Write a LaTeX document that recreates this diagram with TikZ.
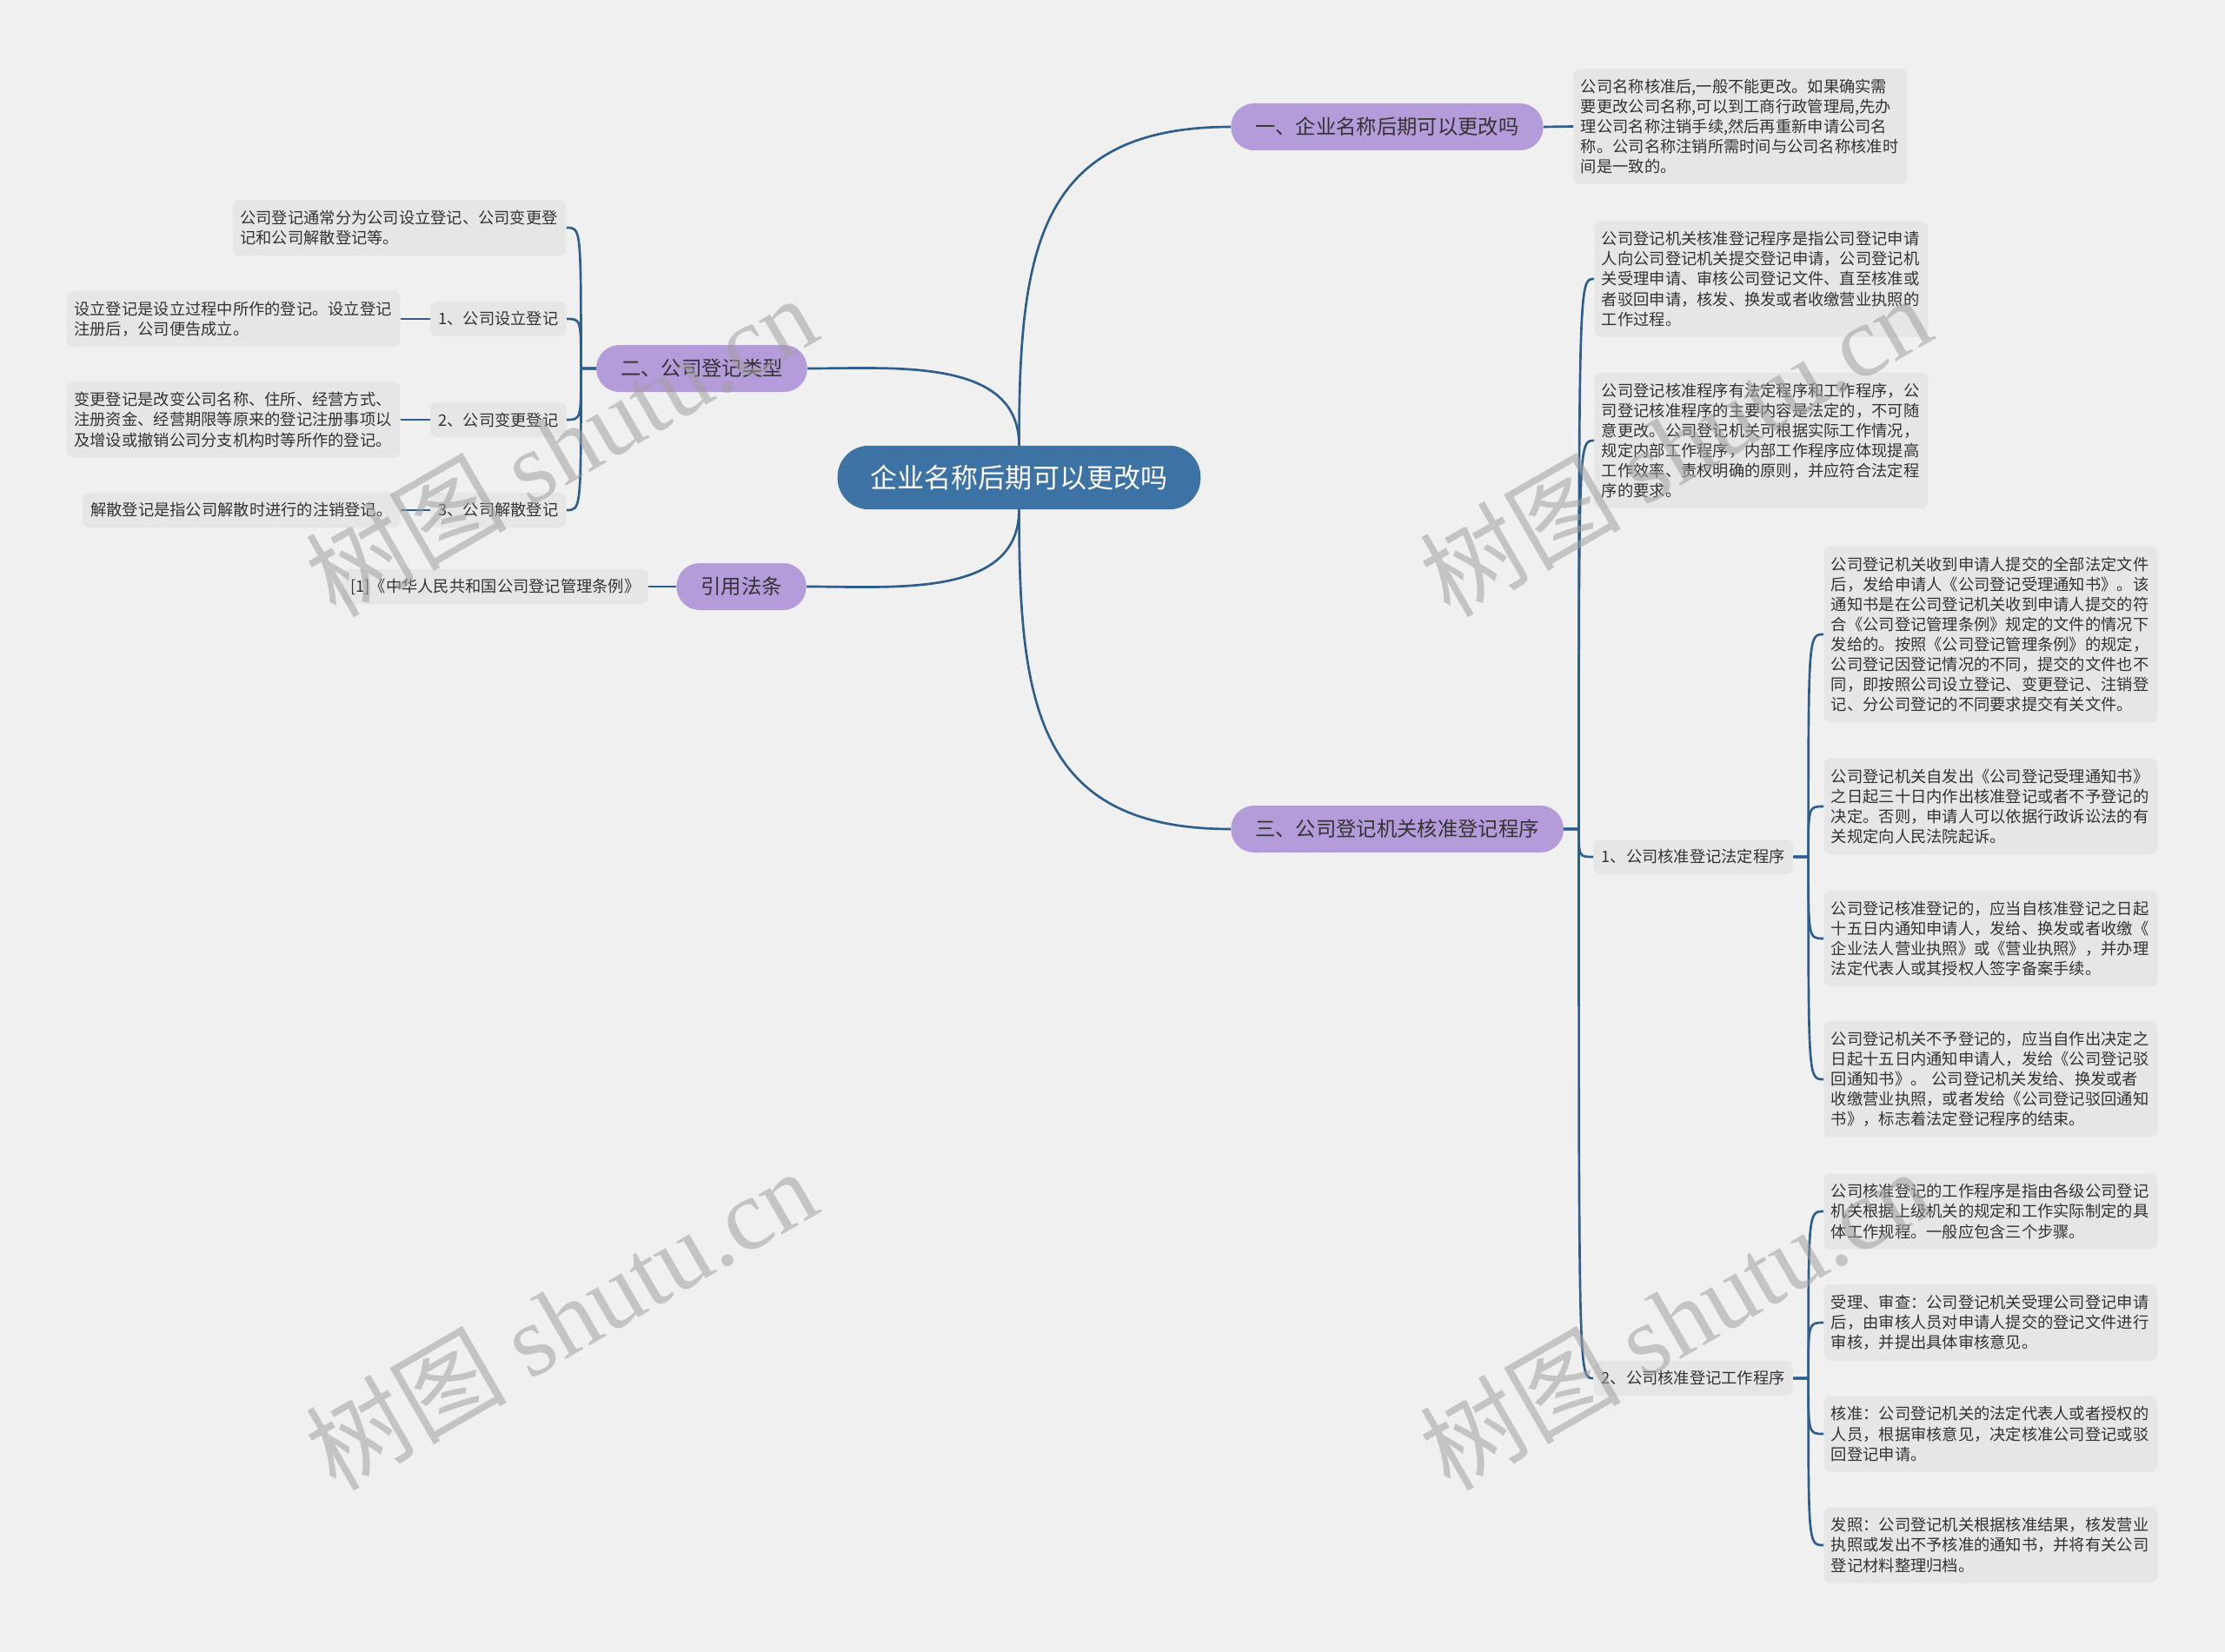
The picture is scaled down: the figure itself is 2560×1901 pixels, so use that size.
\documentclass[tikz,border=0pt]{standalone}
\usepackage{fontspec}
\setmainfont{Noto Sans CJK SC}
\newfontfamily\wmfont{Liberation Serif}
\usepackage{tikz}
\usetikzlibrary{positioning}

\definecolor{bgcol}{HTML}{F0F0F0}
\definecolor{leafcol}{HTML}{E6E6E6}
\definecolor{pillcol}{HTML}{B49BDA}
\definecolor{rootcol}{HTML}{3D72A4}
\definecolor{linkcol}{HTML}{2E5E8C}
\definecolor{txtcol}{HTML}{333333}
\definecolor{wmcol}{HTML}{A0A0A0}

\newcommand{\leaffont}{\fontsize{13.7}{17.3}\selectfont}

\begin{document}
\begin{tikzpicture}[
  x=0.75pt, y=0.75pt,
  root/.style={fill=rootcol, text=white, rounded corners=27pt, minimum height=55pt, inner xsep=28.5pt, font=\fontsize{23.3}{28}\selectfont},
  topic/.style={fill=pillcol, text=txtcol, rounded corners=20pt, minimum height=40.5pt, inner xsep=21pt, font=\fontsize{17.5}{21}\selectfont},
  subtopic/.style={fill=leafcol, text=txtcol, rounded corners=6pt, minimum height=30pt, inner xsep=7pt, font=\leaffont},
  leaf/.style={fill=leafcol, text=txtcol, rounded corners=6pt, text width=275pt, align=left, inner xsep=6.5pt, inner ysep=9pt, font=\leaffont},
  link/.style={draw=linkcol, line width=2pt},
  watermark/.style={rotate=30, text=wmcol, text opacity=0.55, font=\fontsize{87}{87}\selectfont},
]
\useasboundingbox (0,0) rectangle (2560,-1901);
\fill[bgcol] (0,0) rectangle (2560,-1901);

% centre
\node[root] (root) at (1172.5,-549.5) {企业名称后期可以更改吗};

% right side
\node[topic, anchor=west] (rename) at (1416,-146) {一、企业名称后期可以更改吗};
\node[leaf, anchor=west] (renamenote) at (1810,-145.5) {公司名称核准后,一般不能更改。如果确实需\\
要更改公司名称,可以到工商行政管理局,先办\\
理公司名称注销手续,然后再重新申请公司名\\
称。公司名称注销所需时间与公司名称核准时\\
间是一致的。};

\node[topic, anchor=west] (proc) at (1416,-954) {三、公司登记机关核准登记程序};
\node[leaf, anchor=west] (procdef) at (1834,-321) {公司登记机关核准登记程序是指公司登记申请\\
人向公司登记机关提交登记申请，公司登记机\\
关受理申请、审核公司登记文件、直至核准或\\
者驳回申请，核发、换发或者收缴营业执照的\\
工作过程。};
\node[leaf, anchor=west] (procsplit) at (1834,-507) {公司登记核准程序有法定程序和工作程序，公\\
司登记核准程序的主要内容是法定的，不可随\\
意更改。公司登记机关可根据实际工作情况，\\
规定内部工作程序，内部工作程序应体现提高\\
工作效率、责权明确的原则，并应符合法定程\\
序的要求。};
\node[subtopic, anchor=west] (legal) at (1833,-986) {1、公司核准登记法定程序};
\node[subtopic, anchor=west] (work) at (1833,-1586) {2、公司核准登记工作程序};

\node[leaf, anchor=west] (legal1) at (2098,-730) {公司登记机关收到申请人提交的全部法定文件\\
后，发给申请人《公司登记受理通知书》。该\\
通知书是在公司登记机关收到申请人提交的符\\
合《公司登记管理条例》规定的文件的情况下\\
发给的。按照《公司登记管理条例》的规定，\\
公司登记因登记情况的不同，提交的文件也不\\
同，即按照公司设立登记、变更登记、注销登\\
记、分公司登记的不同要求提交有关文件。};
\node[leaf, anchor=west] (legal2) at (2098,-928) {公司登记机关自发出《公司登记受理通知书》\\
之日起三十日内作出核准登记或者不予登记的\\
决定。否则，申请人可以依据行政诉讼法的有\\
关规定向人民法院起诉。};
\node[leaf, anchor=west] (legal3) at (2098,-1080) {公司登记核准登记的，应当自核准登记之日起\\
十五日内通知申请人，发给、换发或者收缴《\\
企业法人营业执照》或《营业执照》，并办理\\
法定代表人或其授权人签字备案手续。};
\node[leaf, anchor=west] (legal4) at (2098,-1242) {公司登记机关不予登记的，应当自作出决定之\\
日起十五日内通知申请人，发给《公司登记驳\\
回通知书》。 公司登记机关发给、换发或者\\
收缴营业执照，或者发给《公司登记驳回通知\\
书》，标志着法定登记程序的结束。};

\node[leaf, anchor=west] (work1) at (2098,-1394) {公司核准登记的工作程序是指由各级公司登记\\
机关根据上级机关的规定和工作实际制定的具\\
体工作规程。一般应包含三个步骤。};
\node[leaf, anchor=west] (work2) at (2098,-1522) {受理、审查：公司登记机关受理公司登记申请\\
后，由审核人员对申请人提交的登记文件进行\\
审核，并提出具体审核意见。};
\node[leaf, anchor=west] (work3) at (2098,-1650) {核准：公司登记机关的法定代表人或者授权的\\
人员，根据审核意见，决定核准公司登记或驳\\
回登记申请。};
\node[leaf, anchor=west] (work4) at (2098,-1778) {发照：公司登记机关根据核准结果，核发营业\\
执照或发出不予核准的通知书，并将有关公司\\
登记材料整理归档。};

% left side
\node[topic, anchor=east] (types) at (929,-424) {二、公司登记类型};
\node[leaf, anchor=east] (typesum) at (652,-262) {公司登记通常分为公司设立登记、公司变更登\\
记和公司解散登记等。};
\node[subtopic, anchor=east] (est) at (652,-367) {1、公司设立登记};
\node[leaf, anchor=east] (estnote) at (461,-367) {设立登记是设立过程中所作的登记。设立登记\\
注册后，公司便告成立。};
\node[subtopic, anchor=east] (chg) at (652,-483) {2、公司变更登记};
\node[leaf, anchor=east] (chgnote) at (461,-483) {变更登记是改变公司名称、住所、经营方式、\\
注册资金、经营期限等原来的登记注册事项以\\
及增设或撤销公司分支机构时等所作的登记。};
\node[subtopic, anchor=east] (dis) at (652,-587) {3、公司解散登记};
\node[subtopic, anchor=east] (disnote) at (461,-587) {解散登记是指公司解散时进行的注销登记。};

\node[topic, anchor=east] (cite) at (928,-675) {引用法条};
\node[subtopic, anchor=east] (citenote) at (746,-675) {[1]《中华人民共和国公司登记管理条例》};

% forks
\coordinate[right=13pt of proc] (fproc);
\coordinate[right=13pt of legal] (flegal);
\coordinate[right=13pt of work] (fwork);
\coordinate[left=13pt of types] (ftypes);

% connectors
\draw[link] (root.north) to[out=90, in=180, looseness=1.3] (rename.west);
\draw[link] (root.south) to[out=-90, in=180, looseness=1.3] (proc.west);
\draw[link] (root.north) to[out=90, in=0] (types.east);
\draw[link] (root.south) to[out=-90, in=0] (cite.east);
\draw[link] (rename.east) -- (renamenote.west);
\draw[link] (cite.west) -- (citenote.east);

\foreach \c in {procdef, procsplit, legal, work}
  \draw[link] (proc.east) -- (fproc) .. controls (fproc |- \c.west) .. (\c.west);
\foreach \c in {legal1, legal2, legal3, legal4}
  \draw[link] (legal.east) -- (flegal) .. controls (flegal |- \c.west) .. (\c.west);
\foreach \c in {work1, work2, work3, work4}
  \draw[link] (work.east) -- (fwork) .. controls (fwork |- \c.west) .. (\c.west);
\foreach \c in {typesum, est, chg, dis}
  \draw[link] (types.west) -- (ftypes) .. controls (ftypes |- \c.east) .. (\c.east);

\draw[link] (est.west) -- (estnote.east);
\draw[link] (chg.west) -- (chgnote.east);
\draw[link] (dis.west) -- (disnote.east);

% watermark
\foreach \wx/\wy [count=\i] in {645/-512, 1927/-512, 645/-1517, 1927/-1517}
  \node[watermark] (wm\i) at (\wx,\wy) {树图 {\wmfont shutu.cn}};
\end{tikzpicture}
\end{document}
